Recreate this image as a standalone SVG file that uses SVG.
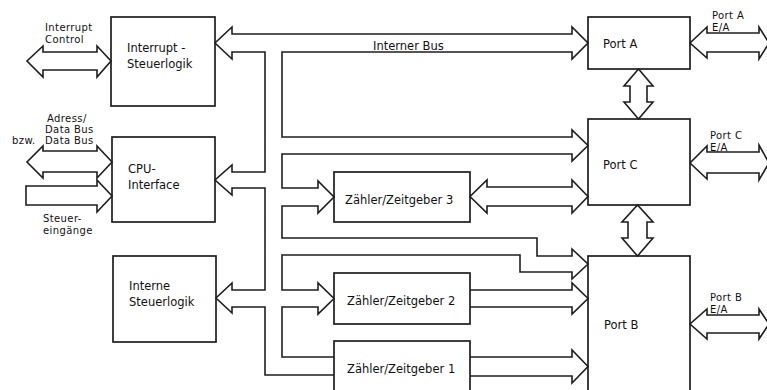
<svg xmlns="http://www.w3.org/2000/svg" width="767" height="390" viewBox="0 0 767 390">
<style>
.box{fill:none;stroke:#1e1e1e;stroke-width:1.7}
.ln{fill:none;stroke:#1e1e1e;stroke-width:1.6;stroke-linejoin:miter}
.t{font-family:"DejaVu Sans",sans-serif;font-size:11.5px;fill:#111}
.s{font-family:"DejaVu Sans",sans-serif;font-size:10px;letter-spacing:0.4px;fill:#111}
</style>
<rect width="767" height="390" fill="#fff"/>
<g id="connectors">
<path class="ln" d="M334,375 L265,375 L265,307 L232,307 L232,313 L216,298 L232,283 L232,290 L265,290 L265,188 L232,188 L232,195 L215,180 L232,165 L232,172 L265,172 L265,52 L232,52 L232,59 L215,43 L232,27 L232,34 L572,34 L572,27 L588,43 L572,59 L572,52 L282,52 L282,137 L572,137 L572,130 L588,145.5 L572,161 L572,154 L282,154 L282,188 L318,188 L318,181 L334,197 L318,213 L318,206 L282,206 L282,238 L537,238 L537,256 L572,256 L572,249 L588,264 L572,279 L572,272 L520,272 L520,255 L282,255 L282,290 L318,290 L318,283 L334,298.5 L318,314 L318,307 L282,307 L282,357 L334,357"/>
<path class="ln" d="M487,187 L572,187 L572,180 L588,196.5 L572,213 L572,206 L487,206 L487,213 L470,196.5 L487,180 Z"/>
<path class="ln" d="M470,290 L572,290 L572,283 L588,298.5 L572,314 L572,307 L470,307"/>
<path class="ln" d="M470,357 L572,357 L572,350 L588,366.5 L572,383 L572,376 L470,376"/>
<path class="ln" d="M707,33 L759,33 L759,27 L769,43 L759,59 L759,52 L707,52 L707,58 L690,43 L707,27 Z"/>
<path class="ln" d="M707,152 L759,152 L759,145 L769,163 L759,180 L759,173 L707,173 L707,179 L690,163 L707,146 Z"/>
<path class="ln" d="M707,315 L759,315 L759,309 L769,324 L759,339 L759,333 L707,333 L707,339 L690,324 L707,309 Z"/>
<path class="ln" d="M43,52 L97,52 L97,46 L111,61 L97,77 L97,70 L43,70 L43,77 L27,61 L43,46 Z"/>
<path class="ln" d="M43,151 L97,151 L97,146 L112,162 L97,178 L97,172 L43,172 L43,178 L27,162 L43,146 Z"/>
<path class="ln" d="M26,186 L97,186 L97,180 L112,196 L97,212 L97,205 L26,205 Z"/>
<path class="ln" d="M630,86 L630,102 L624,102 L638.5,119 L653,102 L647,102 L647,86 L653,86 L638.5,69 L624,86 Z"/>
<path class="ln" d="M628,222 L628,238 L622,238 L637.5,256 L653,238 L647,238 L647,222 L653,222 L637.5,205 L622,222 Z"/>
</g>
<g id="labels">
<text class="s" x="45" y="31">Interrupt</text>
<text class="s" x="45" y="43">Control</text>
<text class="s" x="47" y="122">Adress/</text>
<text class="s" x="45" y="133">Data Bus</text>
<text class="s" x="12" y="144">bzw.</text>
<text class="s" x="45" y="144">Data Bus</text>
<text class="s" x="43" y="222">Steuer-</text>
<text class="s" x="43" y="234">eingänge</text>
<text class="t" x="373" y="50">Interner Bus</text>
<text class="s" x="712" y="19">Port A</text>
<text class="s" x="712" y="31">E/A</text>
<text class="s" x="710" y="139">Port C</text>
<text class="s" x="710" y="151">E/A</text>
<text class="s" x="710" y="301">Port B</text>
<text class="s" x="710" y="313">E/A</text>
</g>
<g id="interrupt-steuerlogik">
<rect class="box" x="111" y="17" width="104" height="89"/>
<text class="t" x="127" y="52">Interrupt -</text>
<text class="t" x="127" y="68">Steuerlogik</text>
</g>
<g id="cpu-interface">
<rect class="box" x="112" y="137" width="103" height="85"/>
<text class="t" x="128" y="173">CPU-</text>
<text class="t" x="128" y="189">Interface</text>
</g>
<g id="interne-steuerlogik">
<rect class="box" x="113" y="256" width="103" height="86"/>
<text class="t" x="129" y="290">Interne</text>
<text class="t" x="129" y="306">Steuerlogik</text>
</g>
<g id="port-a">
<rect class="box" x="588" y="17" width="102" height="52"/>
<text class="t" x="603" y="48">Port  A</text>
</g>
<g id="port-c">
<rect class="box" x="588" y="119" width="102" height="86"/>
<text class="t" x="603" y="169">Port  C</text>
</g>
<g id="port-b">
<rect class="box" x="588" y="256" width="102" height="140"/>
<text class="t" x="604" y="329">Port  B</text>
</g>
<g id="zaehler-3">
<rect class="box" x="334" y="172" width="136" height="50"/>
<text class="t" x="345" y="204">Zähler/Zeitgeber 3</text>
</g>
<g id="zaehler-2">
<rect class="box" x="334" y="273" width="136" height="51"/>
<text class="t" x="347" y="305">Zähler/Zeitgeber 2</text>
</g>
<g id="zaehler-1">
<rect class="box" x="334" y="341" width="136" height="60"/>
<text class="t" x="347" y="373">Zähler/Zeitgeber 1</text>
</g>
</svg>
